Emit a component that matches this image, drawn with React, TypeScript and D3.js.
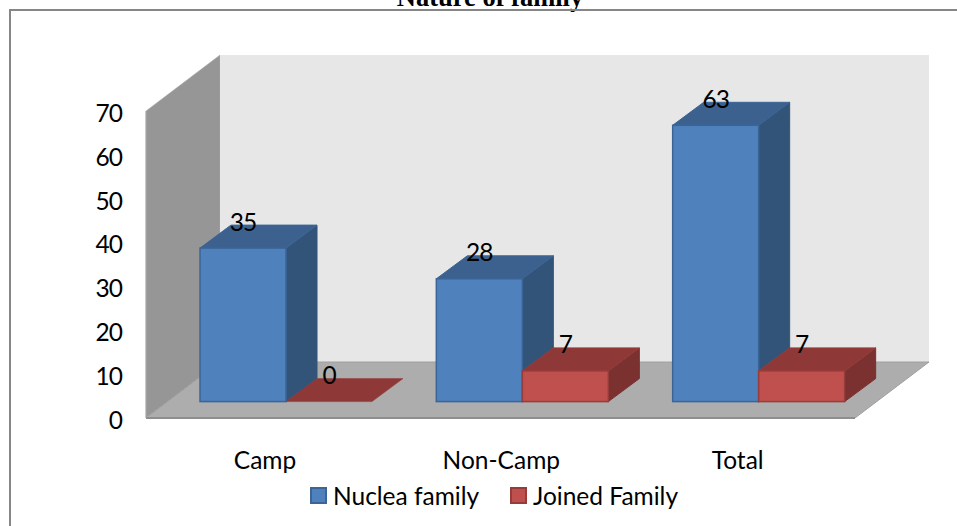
import React from "react";
import * as d3 from "d3";

const categories = ["Camp", "Non-Camp", "Total"];
const seriesNames = ["Nuclea family", "Joined Family"];
const nuclear = [35, 28, 63];
const joined = [0, 7, 7];
const yTicks = [0, 10, 20, 30, 40, 50, 60, 70];

const FONT = "Lato, Carlito, sans-serif";
const FS = 24.5;

export default function App() {
  const y = d3.scaleLinear().domain([0, 70]).range([418, 111]);
  const x0 = d3.scaleBand<string>().domain(categories).range([168, 877]);
  const x1 = d3.scaleBand<string>().domain(seriesNames).range([32, 204]);
  const depth = { x: 74, y: -56 };
  const barDepth = { x: 31, y: -23 };
  const lift = -16.4;
  const floorL = 146, floorR = 855;
  const y0 = y(0), yTop = y(70);
  const pts = (a: number[][]) => a.map((p) => p.join(",")).join(" ");

  const bars = (vals: number[], s: string, front: string, top: string, side: string, stroke: string) =>
    vals.map((v, i) => {
      const xl = (x0(categories[i]) as number) + (x1(s) as number);
      const xr = xl + x1.bandwidth();
      const b = y(0) + lift;
      const t = y(v) + lift;
      const dx = barDepth.x, dy = barDepth.y;
      return (
        <g key={s + i}>
          {v > 0 && <polygon points={pts([[xr, t], [xr + dx, t + dy], [xr + dx, b + dy], [xr, b]])} fill={side} stroke={side} strokeWidth={1} />}
          <polygon points={pts([[xl, t], [xl + dx, t + dy], [xr + dx, t + dy], [xr, t]])} fill={top} stroke={v > 0 ? stroke : top} strokeWidth={v > 0 ? 1 : 0.5} />
          {v > 0 && <rect x={xl} y={t} width={xr - xl} height={b - t} fill={front} stroke={stroke} strokeWidth={1.5} />}
        </g>
      );
    });

  const labels = (vals: number[], s: string) =>
    vals.map((v, i) => {
      const xl = (x0(categories[i]) as number) + (x1(s) as number);
      return (
        <text key={s + "l" + i} x={xl + x1.bandwidth() / 2} y={y(v) + lift - 17.5} textAnchor="middle" fontSize={FS} letterSpacing={-1} fontFamily={FONT} fill="#000">
          {v}
        </text>
      );
    });

  return (
    <svg width={957} height={526} style={{ position: "absolute", left: 0, top: 0, background: "#fff" }}>
      <text x={490} y={6} textAnchor="middle" fontSize={26.5} fontWeight="bold" fontFamily="'Liberation Serif', serif" fill="#000">Nature of family</text>
      <path d="M10,526V10H957" fill="none" stroke="#868686" strokeWidth={2} />
      <polygon points={pts([[floorL, yTop], [floorL + depth.x, yTop + depth.y], [floorL + depth.x, y0 + depth.y], [floorL, y0]])} fill="#969696" stroke="#a8a8a8" strokeWidth={0.5} />
      <rect x={floorL + depth.x} y={yTop + depth.y} width={floorR - floorL} height={y0 - yTop} fill="#e7e7e7" />
      <polygon points={pts([[floorL, y0], [floorL + depth.x, y0 + depth.y], [floorR + depth.x, y0 + depth.y], [floorR, y0]])} fill="#adadad" stroke="#a0a0a0" strokeWidth={1} />
      <line x1={floorL} x2={floorR} y1={y0} y2={y0} stroke="#8e8e8e" strokeWidth={2} />
      <line x1={floorL} x2={floorL} y1={yTop} y2={y0} stroke="#a8a8a8" strokeWidth={1} />
      {yTicks.map((t) => (
        <text key={t} x={122} y={y(t) + 2} dy="0.36em" textAnchor="end" fontSize={FS} letterSpacing={-1} fontFamily={FONT} fill="#000">{t}</text>
      ))}
      {bars(nuclear, seriesNames[0], "#4f81bd", "#3c618e", "#335479", "#3b6597")}
      {bars(joined, seriesNames[1], "#c0504d", "#8e3937", "#7a312f", "#963c3a")}
      {labels(nuclear, seriesNames[0])}
      {labels(joined, seriesNames[1])}
      {categories.map((c) => (
        <text key={c} x={(x0(c) as number) + 97} y={469} textAnchor="middle" fontSize={FS} fontFamily={FONT} fill="#000">{c}</text>
      ))}
      <rect x={311} y={488} width={15} height={15} fill="#4f81bd" stroke="#3b6597" strokeWidth={2} />
      <text x={333} y={505} fontSize={FS} fontFamily={FONT} fill="#000">{seriesNames[0]}</text>
      <rect x={511} y={488} width={15} height={15} fill="#c0504d" stroke="#963c3a" strokeWidth={2} />
      <text x={533} y={505} fontSize={FS} fontFamily={FONT} fill="#000">{seriesNames[1]}</text>
    </svg>
  );
}
